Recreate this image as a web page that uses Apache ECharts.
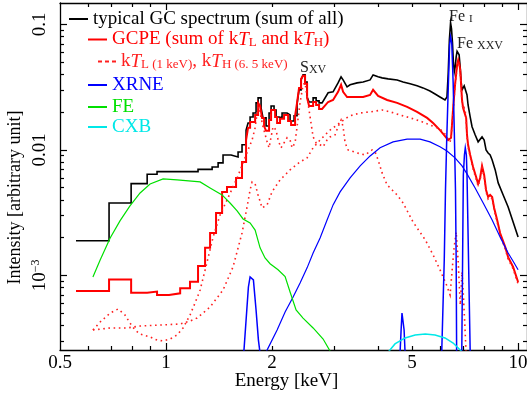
<!DOCTYPE html>
<html>
<head>
<meta charset="utf-8">
<script src="https://cdn.jsdelivr.net/npm/echarts@6.0.0/dist/echarts.min.js"></script>
<style>
html, body { margin: 0; padding: 0; background: #fff; }
#chart { width: 527px; height: 395px; }
</style>
</head>
<body>
<div id="chart"></div>
<script>
// energy [keV], intensity [arbitrary unit]
var gcSum = [
  [0.555, 0.00189], [0.689, 0.00189], [0.689, 0.00378], [0.796, 0.00378],
  [0.796, 0.00539], [0.884, 0.00539], [0.884, 0.0064], [0.943, 0.0064],
  [0.943, 0.00672], [1.233, 0.00672], [1.233, 0.0070], [1.352, 0.0070],
  [1.352, 0.00732], [1.406, 0.00732], [1.406, 0.00788], [1.452, 0.00788],
  [1.452, 0.00912], [1.530, 0.00912], [1.530, 0.0088], [1.602, 0.0088],
  [1.602, 0.00964], [1.644, 0.00964], [1.644, 0.0110], [1.688, 0.0110],
  [1.688, 0.0144], [1.710, 0.0144], [1.710, 0.0164], [1.733, 0.0164],
  [1.733, 0.0183], [1.767, 0.0183], [1.767, 0.0197], [1.802, 0.0197],
  [1.802, 0.0237], [1.826, 0.0237], [1.826, 0.0260], [1.862, 0.0260],
  [1.862, 0.0216], [1.886, 0.0216], [1.886, 0.0180], [1.924, 0.0180],
  [1.924, 0.0155], [1.962, 0.0155], [1.962, 0.0197], [1.988, 0.0197],
  [1.988, 0.0224], [2.027, 0.0224], [2.027, 0.0208], [2.054, 0.0208],
  [2.054, 0.0183], [2.095, 0.0183], [2.095, 0.0180], [2.136, 0.0180],
  [2.136, 0.0197], [2.207, 0.0197], [2.207, 0.0190], [2.251, 0.0190],
  [2.251, 0.0170], [2.311, 0.0170], [2.311, 0.0187], [2.356, 0.0187],
  [2.356, 0.0233], [2.387, 0.0233], [2.387, 0.0301], [2.419, 0.0301],
  [2.419, 0.0361], [2.450, 0.0361], [2.450, 0.0396], [2.483, 0.0396],
  [2.483, 0.0348], [2.516, 0.0348], [2.516, 0.0264], [2.549, 0.0264],
  [2.549, 0.0241], [2.617, 0.0241], [2.617, 0.0260], [2.669, 0.0260],
  [2.669, 0.0246], [2.721, 0.0246], [2.721, 0.0237], [2.775, 0.0237],
  [2.887, 0.0285], [2.982, 0.0290], [3.081, 0.0342], [3.142, 0.0382],
  [3.184, 0.0361], [3.268, 0.0318], [3.333, 0.0330], [3.490, 0.0342],
  [3.629, 0.0348], [3.799, 0.0361], [3.874, 0.0396], [3.925, 0.0403],
  [4.003, 0.0382], [4.110, 0.0375], [4.274, 0.0368], [4.533, 0.0361],
  [4.714, 0.0348], [4.935, 0.0336], [5.164, 0.0324], [5.37, 0.0312],
  [5.62, 0.0295], [5.81, 0.0279], [6.00, 0.0264], [6.20, 0.0250],
  [6.28, 0.0264], [6.33, 0.040], [6.38, 0.075], [6.43, 0.103],
  [6.47, 0.092], [6.51, 0.072], [6.55, 0.050], [6.59, 0.042],
  [6.63, 0.046], [6.67, 0.055], [6.71, 0.061], [6.76, 0.063],
  [6.80, 0.0572], [6.85, 0.0450], [6.89, 0.0348], [6.93, 0.0301],
  [6.98, 0.0301], [7.03, 0.0324], [7.07, 0.0336], [7.12, 0.0318],
  [7.16, 0.0274], [7.21, 0.0228], [7.31, 0.0183], [7.40, 0.0153],
  [7.55, 0.0132], [7.70, 0.0116], [7.80, 0.0114], [7.90, 0.0127],
  [8.01, 0.0120], [8.11, 0.0100], [8.22, 0.00946], [8.33, 0.00912],
  [8.44, 0.00833], [8.61, 0.00693], [8.78, 0.00546], [9.07, 0.00438],
  [9.37, 0.00351], [9.68, 0.00267], [10.0, 0.00203]
];

var gcpe = [
  [0.555, 0.000752], [0.689, 0.000752], [0.689, 0.000929], [0.796, 0.000929],
  [0.796, 0.000729], [0.884, 0.000729], [0.884, 0.000745], [0.943, 0.000745],
  [0.943, 0.000699], [1.020, 0.000699], [1.020, 0.000721], [1.097, 0.000721],
  [1.097, 0.000792], [1.170, 0.000792], [1.170, 0.000892], [1.233, 0.000892],
  [1.233, 0.00119], [1.291, 0.00119], [1.291, 0.00166], [1.334, 0.00166],
  [1.334, 0.00218], [1.387, 0.00218], [1.387, 0.00315], [1.443, 0.00315],
  [1.443, 0.00463], [1.490, 0.00463], [1.490, 0.00507], [1.581, 0.00507],
  [1.581, 0.00598], [1.644, 0.00598], [1.644, 0.00802], [1.688, 0.00802],
  [1.688, 0.0120], [1.710, 0.0120], [1.710, 0.0150], [1.733, 0.0150],
  [1.733, 0.0167], [1.791, 0.0167], [1.791, 0.0190], [1.826, 0.0190],
  [1.826, 0.0237], [1.850, 0.0237], [1.850, 0.0224], [1.874, 0.0224],
  [1.874, 0.0180], [1.899, 0.0180], [1.899, 0.0155], [1.924, 0.0155],
  [1.924, 0.0142], [1.962, 0.0142], [1.962, 0.0173], [1.988, 0.0173],
  [1.988, 0.0208], [2.041, 0.0208], [2.041, 0.0183], [2.068, 0.0183],
  [2.068, 0.0164], [2.108, 0.0164], [2.108, 0.0177], [2.164, 0.0177],
  [2.164, 0.0190], [2.222, 0.0190], [2.222, 0.0170], [2.266, 0.0170],
  [2.266, 0.0158], [2.326, 0.0158], [2.326, 0.0187], [2.356, 0.0187],
  [2.356, 0.0237], [2.387, 0.0237], [2.387, 0.0312], [2.419, 0.0312],
  [2.419, 0.0368], [2.450, 0.0368], [2.450, 0.0389], [2.483, 0.0389],
  [2.483, 0.0336], [2.516, 0.0336], [2.516, 0.0260], [2.549, 0.0260],
  [2.549, 0.0224], [2.617, 0.0224], [2.617, 0.0241], [2.669, 0.0241],
  [2.669, 0.0228], [2.721, 0.0228], [2.721, 0.0212], [2.775, 0.0212],
  [2.887, 0.0241], [2.982, 0.0250], [3.081, 0.0290], [3.142, 0.0330],
  [3.184, 0.0290], [3.268, 0.0264], [3.399, 0.0264], [3.629, 0.0264],
  [3.799, 0.0274], [3.874, 0.0301], [3.925, 0.0312], [4.003, 0.0269],
  [4.246, 0.0250], [4.533, 0.0237], [4.839, 0.0220], [5.164, 0.0201],
  [5.515, 0.0180], [5.735, 0.0164], [6.00, 0.0144], [6.20, 0.0129],
  [6.33, 0.0120], [6.41, 0.0116], [6.45, 0.0125], [6.49, 0.0158],
  [6.54, 0.0216], [6.62, 0.0330], [6.71, 0.0476], [6.76, 0.0521],
  [6.80, 0.0493], [6.85, 0.0434], [6.89, 0.0330], [6.93, 0.0250],
  [6.98, 0.0216], [7.03, 0.0224], [7.07, 0.0216], [7.12, 0.0180],
  [7.16, 0.0132], [7.21, 0.0110], [7.31, 0.00912], [7.45, 0.00732],
  [7.60, 0.00609], [7.70, 0.00536], [7.80, 0.00598], [7.90, 0.00746],
  [8.01, 0.00632], [8.11, 0.0048], [8.22, 0.00422], [8.33, 0.00438],
  [8.44, 0.00422], [8.55, 0.00345], [8.72, 0.00277], [8.89, 0.00218],
  [9.19, 0.00169], [9.37, 0.0014], [9.68, 0.00117], [10.0, 0.000887]
];

// kT_L = 1 keV component
var kTL = [
  [0.620, 0.000368], [0.650, 0.000426], [0.694, 0.000502], [0.731, 0.000541],
  [0.765, 0.000484], [0.790, 0.000418], [0.817, 0.000368], [0.844, 0.000342],
  [0.901, 0.000324], [0.943, 0.000306], [0.981, 0.000301], [1.027, 0.000312],
  [1.075, 0.000336], [1.118, 0.000382], [1.170, 0.000484], [1.209, 0.000604],
  [1.250, 0.000766], [1.308, 0.00128], [1.361, 0.00203], [1.424, 0.00303],
  [1.490, 0.00399], [1.592, 0.00598], [1.655, 0.00788], [1.710, 0.0100],
  [1.756, 0.0120], [1.791, 0.0150], [1.814, 0.0197], [1.826, 0.0220],
  [1.850, 0.0197], [1.886, 0.0153], [1.937, 0.0116], [1.962, 0.0104],
  [1.988, 0.0127], [2.014, 0.0153], [2.054, 0.0144], [2.081, 0.0120],
  [2.122, 0.0104], [2.164, 0.0114], [2.207, 0.0125], [2.251, 0.0120],
  [2.281, 0.0104], [2.326, 0.0114], [2.356, 0.0153], [2.403, 0.0237],
  [2.450, 0.0330], [2.483, 0.0342], [2.516, 0.0264], [2.566, 0.0183],
  [2.617, 0.0127], [2.669, 0.0114], [2.739, 0.0110], [2.794, 0.0106],
  [2.867, 0.0120], [2.924, 0.0127], [3.021, 0.0132], [3.081, 0.0153],
  [3.142, 0.0173], [3.184, 0.0153], [3.226, 0.0114], [3.289, 0.0100],
  [3.490, 0.00946], [3.678, 0.00912], [3.849, 0.0100], [3.925, 0.00964],
  [4.003, 0.00833], [4.110, 0.00656], [4.246, 0.00526], [4.533, 0.00438],
  [4.714, 0.00378], [5.03, 0.00267], [5.45, 0.00192], [5.735, 0.00146],
  [6.00, 0.00111], [6.28, 0.000825], [6.41, 0.000699], [6.49, 0.00107],
  [6.58, 0.00166], [6.67, 0.00222], [6.76, 0.00128], [6.85, 0.000582],
  [6.89, 0.000766], [6.93, 0.00107], [6.98, 0.000766], [7.07, 0.000368],
  [7.16, 0.000161]
];

// kT_H = 6.5 keV component
var kTH = [
  [0.620, 0.000368], [0.694, 0.000382], [0.775, 0.000382], [0.844, 0.000396],
  [0.962, 0.000403], [1.097, 0.000411], [1.170, 0.000434], [1.225, 0.000458],
  [1.334, 0.000561], [1.452, 0.000766], [1.550, 0.00117], [1.644, 0.00218],
  [1.699, 0.00351], [1.733, 0.00480], [1.756, 0.00556], [1.791, 0.00536],
  [1.826, 0.00438], [1.874, 0.00345], [1.937, 0.00365], [2.0, 0.00463],
  [2.108, 0.00577], [2.251, 0.00693], [2.403, 0.00802], [2.516, 0.00864],
  [2.617, 0.0104], [2.739, 0.0120], [2.924, 0.0144], [3.060, 0.0158],
  [3.226, 0.0177], [3.333, 0.0187], [3.56, 0.0197], [3.799, 0.0201],
  [4.110, 0.0208], [4.33, 0.0201], [4.62, 0.0190], [4.935, 0.0180],
  [5.27, 0.0170], [5.62, 0.0158], [6.00, 0.0147], [6.20, 0.0134],
  [6.33, 0.0122], [6.41, 0.0116], [6.45, 0.0125], [6.49, 0.0155],
  [6.54, 0.0208], [6.62, 0.0318], [6.71, 0.0459], [6.76, 0.0503],
  [6.80, 0.0476], [6.85, 0.0418], [6.89, 0.0318], [6.93, 0.0241],
  [6.98, 0.0208], [7.03, 0.0216], [7.07, 0.0208], [7.12, 0.0173],
  [7.16, 0.0127], [7.21, 0.0106], [7.31, 0.0088], [7.45, 0.00706],
  [7.60, 0.00587], [7.70, 0.00517], [7.80, 0.00577], [7.90, 0.00719],
  [8.01, 0.00609], [8.11, 0.00463], [8.22, 0.00407], [8.33, 0.00422],
  [8.44, 0.00407], [8.55, 0.00333], [8.72, 0.00267], [8.89, 0.00210],
  [9.19, 0.00163], [9.37, 0.00135], [9.68, 0.00113], [10.0, 0.000856]
];

var xrneCont = [
  [1.924, 0.000246], [1.949, 0.000264], [2.068, 0.000368], [2.179, 0.000512],
  [2.296, 0.000674], [2.403, 0.000871], [2.516, 0.00115], [2.617, 0.00151],
  [2.739, 0.00199], [2.867, 0.00277], [2.982, 0.00365], [3.122, 0.00463],
  [3.333, 0.00598], [3.56, 0.00746], [3.799, 0.00896], [4.055, 0.0104],
  [4.415, 0.0116], [4.839, 0.0122], [5.27, 0.0122], [5.62, 0.0116],
  [6.00, 0.0106], [6.28, 0.00982], [6.62, 0.00864], [6.93, 0.00746],
  [7.16, 0.00644], [7.55, 0.00498], [7.96, 0.00378], [8.44, 0.00277],
  [8.89, 0.00203], [9.37, 0.00151], [9.68, 0.00130], [10.0, 0.00111]
];

// emission lines of XRNE (Si, 4.7 keV, Fe I K-alpha, Fe I K-beta)
var xrneLines = [
  [1.60, 0.00001], [1.655, 0.0002], [1.696, 0.000531], [1.714, 0.00081],
  [1.733, 0.000973], [1.753, 0.00100], [1.771, 0.000921], [1.802, 0.000531],
  [1.830, 0.000306], [1.850, 0.00024], [1.90, 0.00001],
  [4.50, 0.00001], [4.62, 0.00024], [4.653, 0.000368], [4.68, 0.000502],
  [4.714, 0.000484], [4.745, 0.000368], [4.776, 0.00024], [4.85, 0.00001],
  [6.00, 0.00001], [6.07, 0.00025], [6.17, 0.00133], [6.22, 0.0048],
  [6.27, 0.012], [6.34, 0.0342], [6.39, 0.0687], [6.43, 0.0795],
  [6.48, 0.0712], [6.54, 0.0342], [6.59, 0.0137], [6.64, 0.0048],
  [6.67, 0.00133], [6.69, 0.00025], [6.75, 0.00001],
  [6.85, 0.00001], [6.92, 0.00025], [6.99, 0.00632], [7.04, 0.00912],
  [7.08, 0.0104], [7.13, 0.00912], [7.16, 0.00632], [7.31, 0.00025],
  [7.40, 0.00001]
];

var feData = [
  [0.620, 0.000973], [0.650, 0.00133], [0.694, 0.00199], [0.740, 0.00272],
  [0.790, 0.00358], [0.844, 0.00454], [0.901, 0.00536], [0.981, 0.00587],
  [1.075, 0.00577], [1.250, 0.00556], [1.334, 0.00498], [1.443, 0.00438],
  [1.520, 0.00378], [1.592, 0.00327], [1.655, 0.00282], [1.733, 0.00262],
  [1.791, 0.00230], [1.850, 0.00166], [1.911, 0.00138], [1.975, 0.00124],
  [2.081, 0.00111], [2.179, 0.000982], [2.251, 0.000739], [2.341, 0.000531],
  [2.450, 0.000458], [2.617, 0.000382], [2.794, 0.000312], [2.924, 0.00025],
  [3.03, 0.00021]
];

var cxbData = [
  [4.274, 0.000245], [4.47, 0.000285], [4.776, 0.000318], [5.10, 0.000336],
  [5.45, 0.000342], [5.81, 0.000336], [6.20, 0.000318], [6.54, 0.00029],
  [6.85, 0.000255], [6.98, 0.00024]
];

var seriesNames = ['typical GC spectrum (sum of all)', 'GCPE (sum of kTL and kTH)',
  'kTL (1 keV), kTH (6.5 keV)', 'XRNE', 'FE', 'CXB'];

var xRange = [0.4999, 10.6];
var yRange = [0.000255, 0.148];
var xLabelVals = [0.5, 1, 2, 5, 10];
var xMajor = [1, 10];
var xMinor = [0.6, 0.7, 0.8, 0.9, 2, 3, 4, 5, 6, 7, 8, 9];
var yMajor = [0.001, 0.01, 0.1];
var yLabelText = ['{b|10}{s|\u22123}', '0.01', '0.1'];
var yMinor = [0.0003, 0.0004, 0.0005, 0.0006, 0.0007, 0.0008, 0.0009,
  0.002, 0.003, 0.004, 0.005, 0.006, 0.007, 0.008, 0.009,
  0.02, 0.03, 0.04, 0.05, 0.06, 0.07, 0.08, 0.09];

var FONT = '"Liberation Serif", "DejaVu Serif", serif';

function axisBase(pos, range, ticks, len, showLine) {
  return {
    type: 'log', logBase: 10, position: pos,
    min: range[0], max: range[1],
    axisLine: { show: showLine, onZero: false, lineStyle: { color: '#000', width: 1.3 } },
    axisTick: { show: true, inside: true, length: len, customValues: ticks,
      lineStyle: { color: '#000', width: 1.2 } },
    axisLabel: { show: false },
    splitLine: { show: false },
    minorTick: { show: false },
    minorSplitLine: { show: false },
    axisPointer: { show: false }
  };
}

var xBottom = axisBase('bottom', xRange, xMajor, 7, true);
xBottom.axisLabel = {
  show: true, customValues: xLabelVals, margin: 4,
  color: '#000', fontFamily: FONT, fontSize: 19,
  formatter: function (v) { return String(v); }
};
xBottom.name = 'Energy [keV]';
xBottom.nameLocation = 'middle';
xBottom.nameGap = 22;
xBottom.nameMoveOverlap = false;
xBottom.nameTextStyle = { color: '#000', fontFamily: FONT, fontSize: 19, padding: [0, 14, 0, 0] };

var yLeft = axisBase('left', yRange, yMajor, 7, true);
yLeft.axisLabel = {
  show: true, customValues: yMajor, margin: 10, rotate: 90,
  color: '#000', fontFamily: FONT, fontSize: 19,
  formatter: function (v) {
    for (var i = 0; i < yMajor.length; i++) {
      if (Math.abs(Math.log10(v / yMajor[i])) < 0.01) return yLabelText[i];
    }
    return '';
  },
  rich: {
    b: { fontFamily: FONT, fontSize: 19, color: '#000' },
    s: { fontFamily: FONT, fontSize: 12, color: '#000', padding: [0, 0, 8, 0] }
  }
};
yLeft.name = 'Intensity [arbitrary unit]';
yLeft.nameLocation = 'middle';
yLeft.nameGap = 36;
yLeft.nameMoveOverlap = false;
yLeft.nameTextStyle = { color: '#000', fontFamily: FONT, fontSize: 18, padding: [0, 42, 0, 0] };

var xAxes = [
  xBottom,
  axisBase('bottom', xRange, xMinor, 4, false),
  axisBase('top', xRange, xMajor, 7, true),
  axisBase('top', xRange, xMinor, 4, false)
];
var yAxes = [
  yLeft,
  axisBase('left', yRange, yMinor, 4, false),
  axisBase('right', yRange, yMajor, 7, true),
  axisBase('right', yRange, yMinor, 4, false)
];

function line(name, data, color, width, dash) {
  return {
    type: 'line', name: name, data: data,
    xAxisIndex: 0, yAxisIndex: 0,
    symbol: 'none', showSymbol: false, smooth: false, clip: true,
    silent: true,
    itemStyle: { color: color },
    lineStyle: { color: color, width: width, type: dash || 'solid', cap: 'butt', join: 'miter' },
    emphasis: { disabled: true }
  };
}

function richFor(c) {
  return {
    i: { color: c, fontFamily: FONT, fontSize: 19, fontStyle: 'italic' },
    s: { color: c, fontFamily: FONT, fontSize: 13, padding: [7, 0, 0, 0] }
  };
}

function legend(name, left, top, width, color, icon, fmt) {
  return {
    data: [{ name: name, icon: icon }],
    left: left, top: top, orient: 'vertical', padding: 0,
    itemWidth: width, itemHeight: 2, itemGap: 0,
    selectedMode: false,
    itemStyle: { borderWidth: 0 },
    textStyle: { color: color, fontFamily: FONT, fontSize: 19, rich: richFor(color) },
    formatter: fmt
  };
}

var dashIcon = 'path://M0 0H4V2H0Z M7 0H11V2H7Z M14 0H18V2H14Z';

var option = {
  animation: false,
  backgroundColor: '#fff',
  textStyle: { fontFamily: FONT },
  grid: { left: 60, right: 0, top: 3, bottom: 45, containLabel: false, outerBoundsMode: 'none' },
  xAxis: xAxes,
  yAxis: yAxes,
  legend: [
    legend(seriesNames[0], 69, 9.5, 19, '#000', 'rect', function () { return 'typical GC spectrum (sum of all)'; }),
    legend(seriesNames[1], 88, 30, 19, '#ff0000', 'rect', function () {
      return 'GCPE (sum of k{i|T}{s|L} and k{i|T}{s|H})';
    }),
    legend(seriesNames[2], 98, 52, 18, '#ff2020', dashIcon, function () {
      return 'k{i|T}{s|L (1 keV)}, k{i|T}{s|H (6. 5 keV)}';
    }),
    legend(seriesNames[3], 88, 75.5, 19, '#0000ff', 'rect', function () { return 'XRNE'; }),
    legend(seriesNames[4], 88, 97.5, 19, '#00e000', 'rect', function () { return 'FE'; }),
    legend(seriesNames[5], 88, 117.5, 19, '#00e8e8', 'rect', function () { return 'CXB'; })
  ],
  graphic: [
    { type: 'text', x: 449, y: 25, silent: true,
      style: { text: '{a|Fe }{b|I}', verticalAlign: 'bottom', fill: '#222',
        rich: { a: { fontFamily: FONT, fontSize: 16, fill: '#222' },
                b: { fontFamily: FONT, fontSize: 11, fill: '#222', verticalAlign: 'bottom' } } } },
    { type: 'text', x: 457, y: 52, silent: true,
      style: { text: '{a|Fe }{b|XXV}', verticalAlign: 'bottom', fill: '#222',
        rich: { a: { fontFamily: FONT, fontSize: 16, fill: '#222' },
                b: { fontFamily: FONT, fontSize: 12, fill: '#222', verticalAlign: 'bottom' } } } },
    { type: 'text', x: 300, y: 76, silent: true,
      style: { text: '{a|S}{b|XV}', verticalAlign: 'bottom', fill: '#222',
        rich: { a: { fontFamily: FONT, fontSize: 16, fill: '#222' },
                b: { fontFamily: FONT, fontSize: 12, fill: '#222', verticalAlign: 'bottom' } } } }
  ],
  series: [
    line(seriesNames[0], gcSum, '#000000', 1.6),
    line(seriesNames[1], gcpe, '#ff0000', 2),
    line(seriesNames[2], kTL, '#ff2020', 1.6, [1.6, 3.6]),
    line(seriesNames[2], kTH, '#ff2020', 1.6, [1.6, 3.6]),
    line(seriesNames[3], xrneCont, '#0000ff', 1.2),
    line(seriesNames[3], xrneLines, '#0000ff', 1.5),
    line(seriesNames[4], feData, '#00e000', 1.2),
    line(seriesNames[5], cxbData, '#00e8e8', 1.5)
  ]
};

var chart = echarts.init(document.getElementById('chart'), null, { renderer: 'canvas' });
chart.setOption(option);
</script>
</body>
</html>
